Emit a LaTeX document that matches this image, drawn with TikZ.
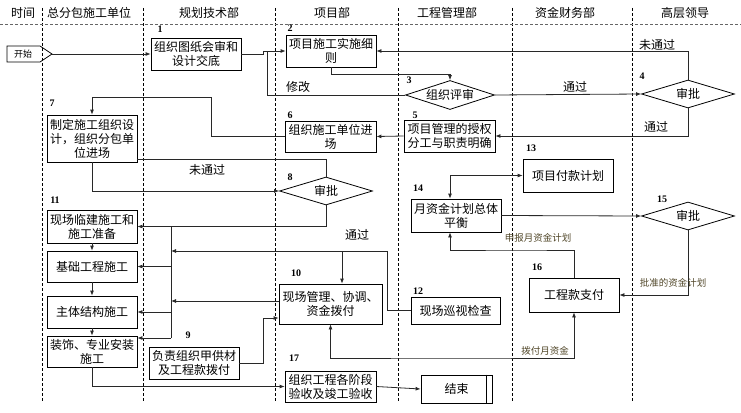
\documentclass[tikz,border=0pt]{standalone}
\usepackage{fontspec}
\setmainfont{Noto Sans CJK SC}
\newfontfamily\numfont{Liberation Serif}
\usetikzlibrary{shapes.geometric,arrows.meta,calc}
\definecolor{lblbrown}{RGB}{80,70,40}
\definecolor{lncol}{RGB}{40,40,40}
\begin{document}
\begin{tikzpicture}[x=1pt,y=-1pt,
  box/.style={draw=black,line width=0.8pt,inner sep=1pt,align=center,font=\fontsize{12}{14}\selectfont},
  dia/.style={draw=black,line width=0.8pt,diamond,aspect=3.2,inner sep=0pt,font=\fontsize{12}{14}\selectfont},
  num/.style={font=\numfont\bfseries\fontsize{10}{10}\selectfont},
  lbl/.style={font=\fontsize{12}{14}\selectfont},
  slbl/.style={font=\fontsize{9.5}{10}\selectfont,text=lblbrown},
  hdr/.style={font=\fontsize{12}{14}\selectfont},
  ln/.style={line width=0.8pt,draw=lncol},
  arr/.style={ln,-{Latex[length=5pt,width=4pt]}},
  darr/.style={ln,{Latex[length=5pt,width=4pt]}-{Latex[length=5pt,width=4pt]}},
  lane/.style={line width=0.7pt,dash pattern=on 3pt off 2pt}]
\useasboundingbox (0,0) rectangle (741,412);
% lanes
\foreach \x in {42,143,275,398,512,632} \draw[lane] (\x,8) -- (\x,402);
\draw[lane,draw=black!60] (0,24) -- (741,24);
% headers
\node[hdr] (h0) at (23,13) {时间};
\node[hdr] (h1) at (89,13) {总分包施工单位};
\node[hdr] (h2) at (209,13) {规划技术部};
\node[hdr] (h3) at (332,13) {项目部};
\node[hdr] (h4) at (447,13) {工程管理部};
\node[hdr] (h5) at (565,13) {资金财务部};
\node[hdr] (h6) at (685,13) {高层领导};
% start shape
\draw[line width=0.8pt] (7,46) -- (40,46) -- (52,54) -- (40,62) -- (7,62) -- cycle;
\node[font=\fontsize{9}{10}\selectfont] (start) at (23,54) {开始};
\coordinate (starttip) at (52,54);
% boxes
\node[box,minimum width=90pt,minimum height=32pt] (n1) at (196,54) {组织图纸会审和\\设计交底};
\node[box,minimum width=90pt,minimum height=32pt] (n2) at (331,51) {项目施工实施细\\则};
\node[dia,minimum width=89pt,minimum height=29pt] (d3) at (450,95) {组织评审};
\node[dia,minimum width=93pt,minimum height=28pt] (d4) at (688,94) {审批};
\node[box,minimum width=91pt,minimum height=32pt] (n5) at (449.5,136) {项目管理的授权\\分工与职责明确};
\node[box,minimum width=91pt,minimum height=31pt] (n6) at (330.5,136.5) {组织施工单位进\\场};
\node[box,minimum width=90pt,minimum height=47pt] (n7) at (92,138.5) {制定施工组织设\\计，组织分包单\\位进场};
\node[dia,minimum width=93pt,minimum height=28pt] (d8) at (326,191) {审批};
\node[box,minimum width=90pt,minimum height=33pt] (n11) at (92,226.5) {现场临建施工和\\施工准备};
\node[box,minimum width=90pt,minimum height=31pt] (nJ) at (92,266.5) {基础工程施工};
\node[box,minimum width=90pt,minimum height=32pt] (nZ) at (92,312) {主体结构施工};
\node[box,minimum width=90pt,minimum height=31pt] (nD) at (92,351.5) {装饰、专业安装\\施工};
\node[box,minimum width=90pt,minimum height=32pt] (n9) at (194,363) {负责组织甲供材\\及工程款拨付};
\node[box,minimum width=103pt,minimum height=40pt] (n10) at (330.5,304) {现场管理、协调、\\资金拨付};
\node[box,minimum width=89pt,minimum height=27pt] (n12) at (455.5,310.5) {现场巡视检查};
\node[box,minimum width=90pt,minimum height=33pt] (n13) at (568,175.5) {项目付款计划};
\node[box,minimum width=90pt,minimum height=33pt] (n14) at (456,215.5) {月资金计划总体\\平衡};
\node[dia,minimum width=93pt,minimum height=28pt] (d15) at (688,216) {审批};
\node[box,minimum width=90pt,minimum height=34pt] (n16) at (574,295) {工程款支付};
\node[box,minimum width=91pt,minimum height=31pt] (n17) at (330.5,386.5) {组织工程各阶段\\验收及竣工验收};
\node[box,minimum width=71pt,minimum height=28pt] (nend) at (456.5,389) {结束};
\draw[line width=0.8pt] ([xshift=-6pt]nend.north east) -- ([xshift=-6pt]nend.south east);
% numbers
\node[num] (k1) at (160,29) {1};
\node[num] (k2) at (290,28) {2};
\node[num] (k3) at (409,80) {3};
\node[num] (k4) at (642,76) {4};
\node[num] (k5) at (415,115) {5};
\node[num] (k6) at (290,115) {6};
\node[num] (k7) at (52,103) {7};
\node[num] (k8) at (290,177) {8};
\node[num] (k9) at (188,335) {9};
\node[num] (k10) at (296,273) {10};
\node[num] (k11) at (55,200) {11};
\node[num] (k12) at (418,291) {12};
\node[num] (k13) at (531,148) {13};
\node[num] (k14) at (418,188) {14};
\node[num] (k15) at (662,199) {15};
\node[num] (k16) at (537,267) {16};
\node[num] (k17) at (294,358) {17};
% coordinates
\coordinate (jA) at (267,51);
\coordinate (c6) at (211,97);
\coordinate (b0) at (171,226.5);
\coordinate (b1) at (171,266.5);
\coordinate (b2) at (171,312);
\coordinate (b3) at (171,338);
\coordinate (bin1) at (171,251);
\coordinate (bin2) at (171,301);
\coordinate (j1) at (387,251);
\coordinate (j2) at (342,251);
\coordinate (c9) at (263,318);
\coordinate (c16) at (450,358);
\coordinate (c14) at (520,250);
% connectors
\draw[arr] (starttip) -- (n1.west);
\draw[arr] (n1.east) -- ++(22,0) |- (n2.west);
\draw[ln] (d3.west) -| (jA);
\node[lbl] (t1) at (298,87) {修改};
\draw[arr] (n2.south) -- ++(0,7) -| (d3.north);
\draw[arr] (d3.east) -- (d4.west);
\node[lbl] (t2) at (575,87) {通过};
\draw[arr] (d4.north) |- (n2.east);
\node[lbl] (t3) at (657,45) {未通过};
\draw[arr] (d4.south) |- (n5.east);
\node[lbl] (t4) at (656,127) {通过};
\draw[arr] (n5.west) -- (n6.east);
\draw[arr] (n6.west) -| (c6) -| (n7.north);
\draw[arr] (n7.south) |- (d8.west);
\draw[ln] (d8.north) |- ([yshift=3pt]n7.south east);
\node[lbl] (t5) at (207,170) {未通过};
\draw[arr] (d8.south) |- (n11.east);
\node[lbl] (t6) at (357,235) {通过};
\draw[ln] (b0) -- (b3);
\draw[arr] (b1) -- (nJ.east);
\draw[arr] (b2) -- (b2 -| nZ.east);
\draw[arr] (b3) -- (b3 -| nD.east);
\draw[arr] (n12.west) -| (j1) -- (bin1);
\draw[arr] (j2) -- (j2 |- n10.north);
\draw[arr] (bin2 -| n10.west) -- (bin2);
\draw[arr] (n9.east) -| (c9) -- (c9 -| n10.west);
\draw[arr] (n11.south) -- (nJ.north);
\draw[arr] (nJ.south) -- (nZ.north);
\draw[arr] (nZ.south) -- (nD.north);
\draw[arr] (nD.south) |- (n17.west);
\draw[arr] (n17.east) -- (nend.west);
\draw[darr] (n10.south) |- (c16) -| (n16.south);
\node[slbl] (t7) at (545,351) {拨付月资金};
\draw[arr] (n16.north) |- (c14) -| ([xshift=-6pt]n14.south);
\node[slbl] (t8) at (538,238) {申报月资金计划};
\draw[darr] ([xshift=-6pt]n14.north) |- (n13.west);
\draw[arr] (n14.east) -- (d15.west);
\draw[arr] (d15.south) |- (n16.east);
\node[slbl] (t9) at (673,283) {批准的资金计划};
\end{tikzpicture}
\end{document}
